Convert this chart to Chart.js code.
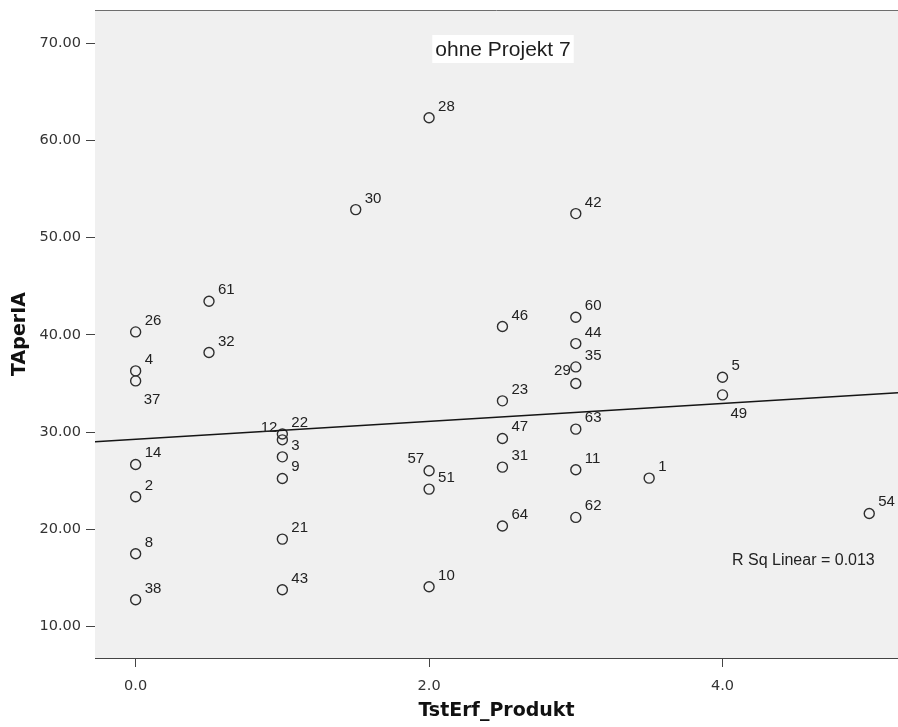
<!DOCTYPE html>
<html>
<head>
<meta charset="utf-8">
<script src="https://cdn.jsdelivr.net/npm/chart.js@4/dist/chart.umd.min.js"></script>
<style>
  html, body { margin: 0; padding: 0; background: #ffffff; }
  #wrap { width: 898px; height: 727px; }
</style>
</head>
<body>
<div id="wrap"><canvas id="c" width="898" height="727"></canvas></div>
<script>
// Case numbers, TstErf_Produkt (x) and TAperIA (y) for each project
const caseIds = [26, 4, 37, 14, 2, 8, 38,
                 61, 32,
                 22, 12, 3, 9, 21, 43,
                 30,
                 28, 57, 51, 10,
                 46, 23, 47, 31, 64,
                 42, 60, 44, 35, 29, 63, 11, 62,
                 1,
                 5, 49,
                 54];
const tstErfProdukt = [0, 0, 0, 0, 0, 0, 0,
                       0.5, 0.5,
                       1, 1, 1, 1, 1, 1,
                       1.5,
                       2, 2, 2, 2,
                       2.5, 2.5, 2.5, 2.5, 2.5,
                       3, 3, 3, 3, 3, 3, 3, 3,
                       3.5,
                       4, 4,
                       5];
const tAperIA = [40.30, 36.29, 35.26, 26.67, 23.34, 17.48, 12.75,
                 43.45, 38.18,
                 29.80, 29.20, 27.45, 25.23, 18.99, 13.78,
                 52.88,
                 62.33, 26.02, 24.13, 14.09,
                 40.85, 33.21, 29.34, 26.39, 20.33,
                 52.47, 41.81, 39.10, 36.70, 35.00, 30.30, 26.12, 21.22,
                 25.26,
                 35.64, 33.82,
                 21.63];

const xTickValues = [0, 2, 4];
const yTickValues = [10, 20, 30, 40, 50, 60, 70];
const xRange = [-0.277, 5.196];
const yRange = [6.76, 73.41];

const chartTitle = 'ohne Projekt 7';
const fitLabel = 'R Sq Linear = 0.013';
const xTitle = 'TstErf_Produkt';
const yTitle = 'TAperIA';

// where a case label sits relative to its circle (default: upper right)
const labelSide = { 29: 'ul', 12: 'ul', 57: 'ul', 37: 'lr', 49: 'lr' };

// ordinary least squares fit through the points
function linearFit(xs, ys) {
  const n = xs.length;
  const mx = xs.reduce((a, b) => a + b, 0) / n;
  const my = ys.reduce((a, b) => a + b, 0) / n;
  let sxy = 0, sxx = 0;
  for (let i = 0; i < n; i++) {
    sxy += (xs[i] - mx) * (ys[i] - my);
    sxx += (xs[i] - mx) * (xs[i] - mx);
  }
  const slope = sxy / sxx;
  return { slope, intercept: my - slope * mx };
}
const fit = linearFit(tstErfProdukt, tAperIA);

const points = tstErfProdukt.map((x, i) => ({ x, y: tAperIA[i] }));
const fitLine = xRange.map(x => ({ x, y: fit.intercept + fit.slope * x }));

// drop the label overhang padding so the plot box fills the canvas edge to edge
function noScalePadding(s) {
  s.paddingTop = 0; s.paddingBottom = 0; s.paddingLeft = 0; s.paddingRight = 0;
}

const plotDecor = {
  id: 'plotDecor',
  beforeDatasetsDraw(chart) {
    const { ctx, chartArea: a } = chart;
    ctx.save();
    ctx.fillStyle = '#f0f0f0';
    ctx.fillRect(a.left, a.top, a.right - a.left, a.bottom - a.top);
    ctx.strokeStyle = '#6e6e6e';
    ctx.lineWidth = 1;
    ctx.beginPath();
    ctx.moveTo(a.left, a.top + 0.5);
    ctx.lineTo(a.right, a.top + 0.5);
    ctx.stroke();
    ctx.restore();
  },
  afterDatasetsDraw(chart) {
    const { ctx, chartArea: a } = chart;
    const meta = chart.getDatasetMeta(1);
    ctx.save();
    ctx.font = '15px "Liberation Sans", Arial, sans-serif';
    ctx.fillStyle = '#222222';
    meta.data.forEach((el, i) => {
      const id = caseIds[i];
      const side = labelSide[id] || 'ur';
      let tx, ty;
      if (side === 'ul') {
        ctx.textAlign = 'right';
        tx = el.x - 5; ty = el.y - 8;
      } else if (side === 'lr') {
        ctx.textAlign = 'left';
        tx = el.x + 8; ty = el.y + 23;
      } else {
        ctx.textAlign = 'left';
        tx = el.x + 9; ty = el.y - 7;
      }
      ctx.textBaseline = 'alphabetic';
      ctx.fillText(String(id), tx, ty);
    });

    // chart title in a white box near the top of the plot
    ctx.font = '21px "Liberation Sans", Arial, sans-serif';
    const tw = ctx.measureText(chartTitle).width;
    const cx = a.left + 408, cy = a.top + 39;
    ctx.fillStyle = '#ffffff';
    ctx.fillRect(cx - tw / 2 - 3, cy - 14, tw + 6, 28);
    ctx.fillStyle = '#1e1e1e';
    ctx.textAlign = 'center';
    ctx.textBaseline = 'middle';
    ctx.fillText(chartTitle, cx, cy + 1);

    // goodness-of-fit note
    ctx.font = '16px "Liberation Sans", Arial, sans-serif';
    ctx.fillStyle = '#222222';
    ctx.textAlign = 'left';
    ctx.textBaseline = 'middle';
    ctx.fillText(fitLabel, a.right - 166, a.bottom - 97);
    ctx.restore();
  }
};

new Chart(document.getElementById('c'), {
  data: {
    datasets: [
      {
        type: 'line',
        data: fitLine,
        borderColor: '#151515',
        borderWidth: 1.5,
        pointRadius: 0,
        fill: false,
        order: 1
      },
      {
        type: 'scatter',
        data: points,
        pointStyle: 'circle',
        pointRadius: 5,
        pointBorderWidth: 1.4,
        pointBorderColor: '#2e2e2e',
        pointBackgroundColor: 'rgba(0,0,0,0)',
        order: 2
      }
    ]
  },
  options: {
    responsive: false,
    devicePixelRatio: 1,
    animation: false,
    layout: { autoPadding: false, padding: { top: 10, right: 0, left: 0, bottom: 0 } },
    plugins: { legend: { display: false }, tooltip: { enabled: false } },
    scales: {
      x: {
        type: 'linear',
        position: 'bottom',
        min: xRange[0],
        max: xRange[1],
        afterBuildTicks: s => { s.ticks = xTickValues.map(v => ({ value: v })); },
        afterFit: s => { s.height = 69; noScalePadding(s); },
        grid: { drawOnChartArea: false, tickLength: 9, color: '#444444', lineWidth: 1 },
        border: { color: '#444444', width: 1 },
        ticks: {
          callback: v => Number(v).toFixed(1),
          color: '#333333',
          padding: 11,
          maxRotation: 0,
          font: { family: '"DejaVu Sans", Verdana, sans-serif', size: 14.5 }
        },
        title: {
          display: true,
          text: xTitle,
          color: '#111111',
          padding: { top: 0, bottom: 5 },
          font: { family: '"DejaVu Sans", Verdana, sans-serif', size: 19, weight: 'bold' }
        }
      },
      y: {
        type: 'linear',
        min: yRange[0],
        max: yRange[1],
        afterBuildTicks: s => { s.ticks = yTickValues.map(v => ({ value: v })); },
        afterFit: s => { s.width = 95; noScalePadding(s); },
        grid: { drawOnChartArea: false, tickLength: 9, color: '#444444', lineWidth: 1 },
        border: { color: '#444444', width: 1 },
        ticks: {
          callback: v => Number(v).toFixed(2),
          color: '#333333',
          padding: 5,
          font: { family: '"DejaVu Sans", Verdana, sans-serif', size: 14.5 }
        },
        title: {
          display: true,
          text: yTitle,
          color: '#111111',
          padding: { top: 9, bottom: 0 },
          font: { family: '"DejaVu Sans", Verdana, sans-serif', size: 19, weight: 'bold' }
        }
      }
    }
  },
  plugins: [plotDecor]
});
</script>
</body>
</html>
